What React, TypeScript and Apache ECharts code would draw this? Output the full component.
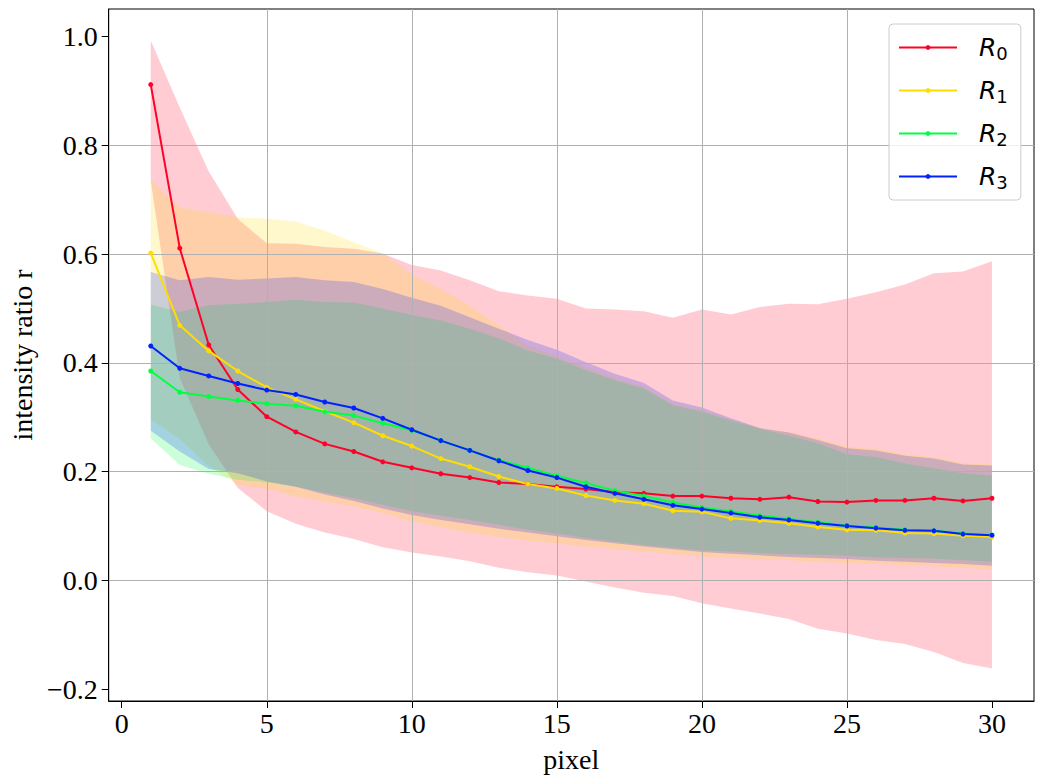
import React, { useEffect, useRef } from "react";
import * as echarts from "echarts";

// ---------- data ----------
const pixels = [1, 2, 3, 4, 5, 6, 7, 8, 9, 10, 11, 12, 13, 14, 15, 16, 17, 18, 19, 20, 21, 22, 23, 24, 25, 26, 27, 28, 29, 30];

const seriesNames = ["R0", "R1", "R2", "R3"];

const r0Mean = [0.912, 0.611, 0.433, 0.351, 0.301, 0.273, 0.251, 0.237, 0.218, 0.207, 0.196, 0.189, 0.180, 0.177, 0.172, 0.168, 0.162, 0.160, 0.155, 0.155, 0.151, 0.149, 0.153, 0.145, 0.144, 0.147, 0.147, 0.151, 0.146, 0.151];
const r0Upper = [0.993, 0.870, 0.752, 0.665, 0.620, 0.619, 0.613, 0.610, 0.601, 0.580, 0.570, 0.552, 0.532, 0.524, 0.518, 0.500, 0.498, 0.495, 0.483, 0.498, 0.489, 0.503, 0.509, 0.508, 0.518, 0.530, 0.544, 0.565, 0.568, 0.587];
const r0Lower = [0.735, 0.372, 0.250, 0.170, 0.127, 0.104, 0.088, 0.076, 0.061, 0.051, 0.044, 0.035, 0.023, 0.015, 0.009, -0.002, -0.013, -0.023, -0.029, -0.042, -0.052, -0.061, -0.071, -0.089, -0.098, -0.110, -0.117, -0.132, -0.152, -0.162];

const r1Mean = [0.602, 0.469, 0.422, 0.385, 0.355, 0.333, 0.311, 0.290, 0.266, 0.247, 0.224, 0.209, 0.191, 0.177, 0.169, 0.156, 0.147, 0.141, 0.128, 0.126, 0.114, 0.110, 0.105, 0.098, 0.093, 0.092, 0.087, 0.086, 0.082, 0.080];
const r1Upper = [0.737, 0.686, 0.677, 0.668, 0.665, 0.660, 0.643, 0.622, 0.601, 0.562, 0.536, 0.505, 0.469, 0.432, 0.412, 0.392, 0.372, 0.356, 0.325, 0.313, 0.296, 0.280, 0.273, 0.261, 0.246, 0.242, 0.232, 0.227, 0.216, 0.213];
const r1Lower = [0.296, 0.260, 0.210, 0.176, 0.168, 0.154, 0.145, 0.136, 0.124, 0.108, 0.098, 0.087, 0.080, 0.073, 0.068, 0.062, 0.057, 0.053, 0.048, 0.044, 0.041, 0.039, 0.037, 0.034, 0.032, 0.030, 0.028, 0.026, 0.023, 0.020];

const r2Mean = [0.385, 0.346, 0.338, 0.331, 0.325, 0.321, 0.310, 0.303, 0.289, 0.276, 0.257, 0.239, 0.221, 0.207, 0.192, 0.179, 0.165, 0.155, 0.143, 0.134, 0.127, 0.119, 0.113, 0.107, 0.101, 0.097, 0.093, 0.091, 0.086, 0.083];
const r2Upper = [0.507, 0.494, 0.506, 0.509, 0.512, 0.516, 0.512, 0.511, 0.500, 0.488, 0.478, 0.463, 0.445, 0.423, 0.408, 0.387, 0.368, 0.353, 0.322, 0.310, 0.294, 0.279, 0.266, 0.252, 0.232, 0.227, 0.215, 0.206, 0.197, 0.193];
const r2Lower = [0.261, 0.212, 0.196, 0.185, 0.180, 0.172, 0.161, 0.151, 0.139, 0.127, 0.119, 0.111, 0.102, 0.093, 0.086, 0.078, 0.071, 0.065, 0.060, 0.055, 0.053, 0.050, 0.048, 0.047, 0.045, 0.042, 0.041, 0.040, 0.037, 0.034];

const r3Mean = [0.431, 0.390, 0.376, 0.362, 0.350, 0.342, 0.328, 0.317, 0.298, 0.277, 0.257, 0.239, 0.220, 0.202, 0.189, 0.172, 0.160, 0.149, 0.138, 0.131, 0.124, 0.116, 0.111, 0.105, 0.100, 0.096, 0.092, 0.091, 0.085, 0.083];
const r3Upper = [0.567, 0.552, 0.558, 0.553, 0.555, 0.558, 0.552, 0.549, 0.536, 0.520, 0.505, 0.484, 0.463, 0.442, 0.424, 0.401, 0.380, 0.363, 0.331, 0.318, 0.298, 0.280, 0.272, 0.258, 0.243, 0.239, 0.229, 0.224, 0.213, 0.211];
const r3Lower = [0.275, 0.237, 0.205, 0.197, 0.182, 0.172, 0.158, 0.146, 0.132, 0.120, 0.111, 0.103, 0.095, 0.088, 0.081, 0.074, 0.068, 0.062, 0.057, 0.052, 0.049, 0.046, 0.043, 0.041, 0.039, 0.036, 0.034, 0.032, 0.030, 0.027];

const xTicks = [0, 5, 10, 15, 20, 25, 30];
const yTicks = [-0.2, 0, 0.2, 0.4, 0.6, 0.8, 1.0];

// ---------- styles ----------
const seriesColors = ["#ff0029", "#ffdd00", "#00ff40", "#0022ff"];
const serifFont = "'Liberation Serif', 'Times New Roman', serif";
const mathFont = "'DejaVu Sans', sans-serif";

function withAlpha(hex: string, a: number): string {
  const r = parseInt(hex.slice(1, 3), 16);
  const g = parseInt(hex.slice(3, 5), 16);
  const b = parseInt(hex.slice(5, 7), 16);
  return `rgba(${r},${g},${b},${a})`;
}

function fmtY(v: number): string {
  const s = Math.abs(v).toFixed(1);
  return v < -1e-9 ? "\u2212" + s : s;
}

function makeBand(name: string, lower: number[], upper: number[], color: string) {
  return {
    type: "custom",
    name: name + " band",
    z: 1,
    silent: true,
    clip: true,
    data: pixels.map((p, i) => [p, lower[i], upper[i]]),
    encode: { x: 0, y: [1, 2] },
    renderItem: (params: any, api: any) => {
      if (params.dataIndex !== 0) return null;
      const pts: number[][] = [];
      for (let i = 0; i < pixels.length; i++) pts.push(api.coord([pixels[i], upper[i]]));
      for (let i = pixels.length - 1; i >= 0; i--) pts.push(api.coord([pixels[i], lower[i]]));
      return {
        type: "polygon",
        shape: { points: pts },
        style: { fill: withAlpha(color, 0.2), stroke: "none" },
      };
    },
  };
}

function makeLine(name: string, mean: number[], color: string) {
  return {
    type: "line",
    name,
    z: 3,
    data: pixels.map((p, i) => [p, mean[i]]),
    symbol: "circle",
    symbolSize: 5,
    showSymbol: true,
    lineStyle: { color, width: 2 },
    itemStyle: { color },
    emphasis: { disabled: true },
  };
}

export default function App() {
  const ref = useRef<HTMLDivElement>(null);

  useEffect(() => {
    if (!ref.current) return;
    const chart = echarts.init(ref.current, null, { renderer: "svg" });
    const means = [r0Mean, r1Mean, r2Mean, r3Mean];
    const lowers = [r0Lower, r1Lower, r2Lower, r3Lower];
    const uppers = [r0Upper, r1Upper, r2Upper, r3Upper];

    const bands = seriesNames.map((n, k) => makeBand(n, lowers[k], uppers[k], seriesColors[k]));
    const lines = seriesNames.map((n, k) => makeLine(n, means[k], seriesColors[k]));

    const option: any = {
      animation: false,
      backgroundColor: "#ffffff",
      grid: {
        left: 104,
        top: 9,
        right: 10,
        bottom: 76,
        show: true,
        borderColor: "#000000",
        borderWidth: 1,
        backgroundColor: "transparent",
        containLabel: false,
      },
      xAxis: {
        type: "value",
        min: -0.45,
        max: 31.45,
        z: 2,
        name: "pixel",
        nameLocation: "middle",
        nameGap: 44,
        nameTextStyle: { fontFamily: serifFont, fontSize: 28, color: "#000" },
        axisLine: { show: true, onZero: false, lineStyle: { color: "#000", width: 1 } },
        axisTick: { show: true, inside: false, length: 7, customValues: xTicks, lineStyle: { color: "#000", width: 1 } },
        axisLabel: {
          show: true,
          customValues: xTicks,
          margin: 8,
          fontFamily: serifFont,
          fontSize: 28,
          color: "#000",
          formatter: (v: number) => String(Math.round(v)),
        },
        splitLine: { show: true, showMinLine: false, showMaxLine: false, lineStyle: { color: "#b0b0b0", width: 1 } },
      },
      yAxis: {
        type: "value",
        min: -0.222,
        max: 1.051,
        z: 2,
        name: "intensity ratio r",
        nameLocation: "middle",
        nameGap: 68,
        nameTextStyle: { fontFamily: serifFont, fontSize: 28, color: "#000" },
        axisLine: { show: true, onZero: false, lineStyle: { color: "#000", width: 1 } },
        axisTick: { show: true, inside: false, length: 7, customValues: yTicks, lineStyle: { color: "#000", width: 1 } },
        axisLabel: {
          show: true,
          customValues: yTicks,
          margin: 11,
          fontFamily: serifFont,
          fontSize: 28,
          color: "#000",
          formatter: (v: number) => fmtY(v),
        },
        splitLine: { show: true, showMinLine: false, showMaxLine: false, lineStyle: { color: "#b0b0b0", width: 1 } },
      },
      legend: {
        show: true,
        data: seriesNames,
        orient: "vertical",
        left: 889,
        top: 24,
        padding: [9, 13, 9, 9],
        itemGap: 14,
        itemWidth: 58,
        itemHeight: 6,
        selectedMode: false,
        backgroundColor: "rgba(255,255,255,0.8)",
        borderColor: "#cccccc",
        borderWidth: 1,
        borderRadius: 4,
        z: 10,
        formatter: (name: string) => `{a|R}{b|${name.slice(1)}}`,
        textStyle: {
          color: "#000",
          rich: {
            a: { fontFamily: mathFont, fontStyle: "italic", fontSize: 25, lineHeight: 30, padding: [0, 0, 0, 17], color: "#000" },
            b: { fontFamily: mathFont, fontSize: 18, lineHeight: 19, padding: [11, 0, 0, 0], color: "#000" },
          },
        },
      },
      series: [...bands, ...lines],
    };

    chart.setOption(option);
    return () => {
      chart.dispose();
    };
  }, []);

  return (
    <div
      ref={ref}
      style={{ position: "absolute", left: 0, top: 0, width: 1044, height: 778, background: "#fff" }}
    />
  );
}
